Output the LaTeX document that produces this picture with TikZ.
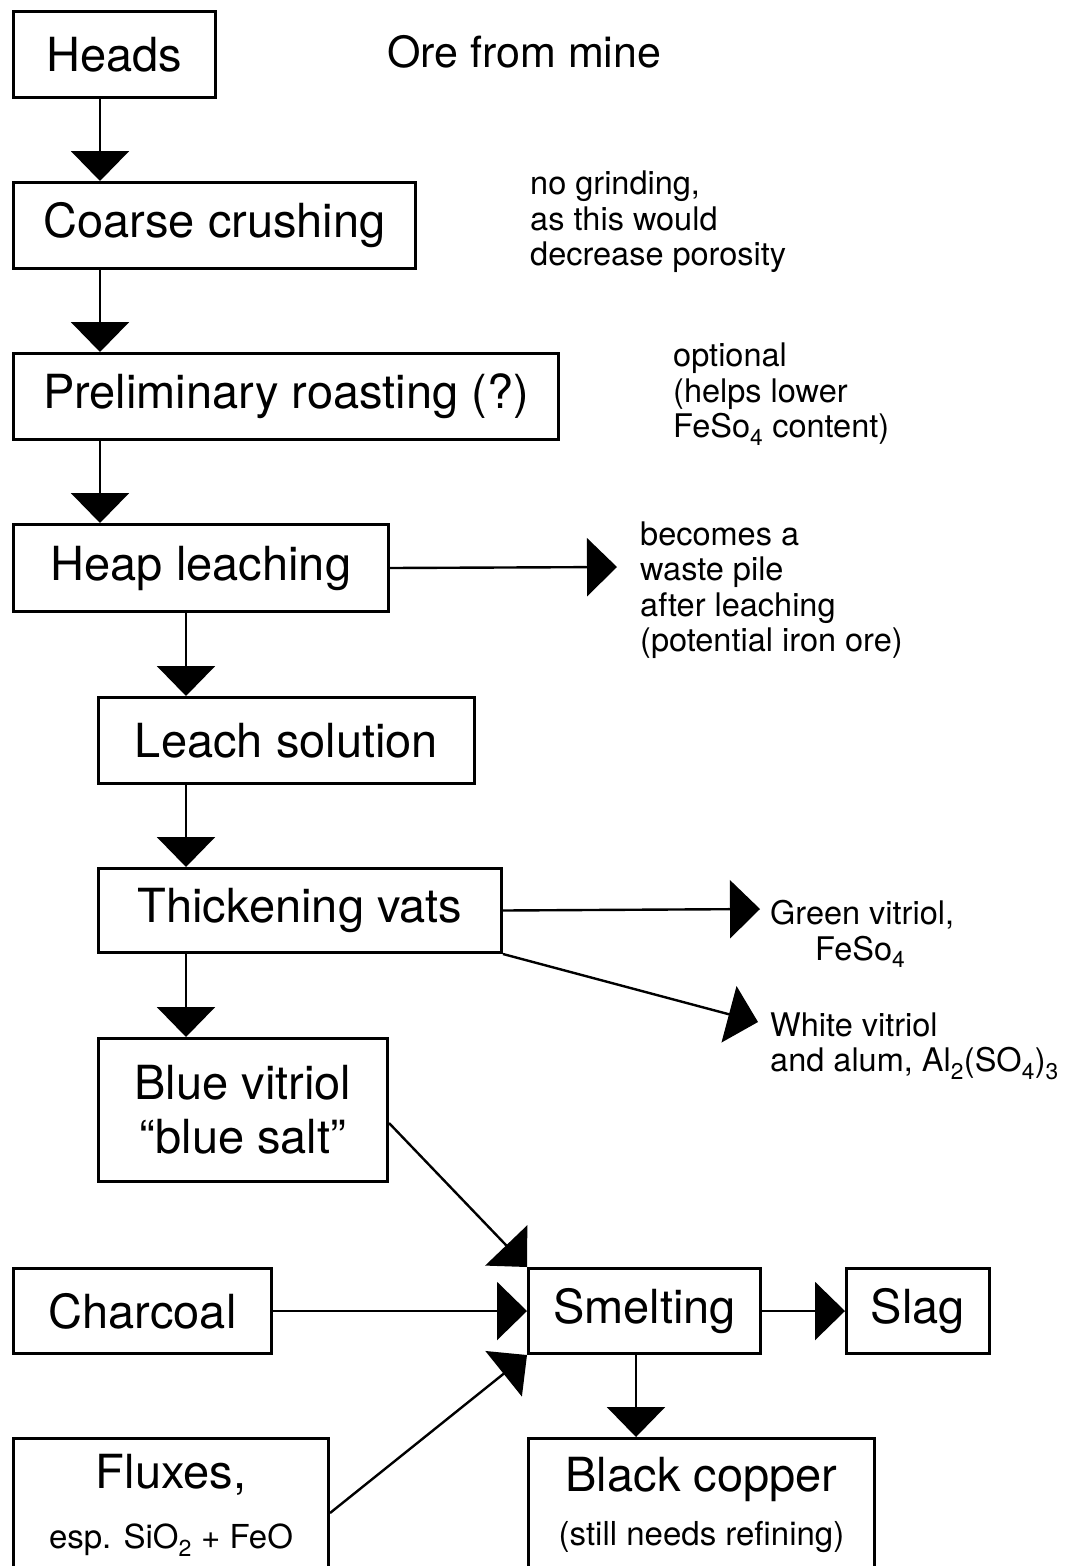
\documentclass[tikz,border=0pt]{standalone}
\usepackage{fontspec}
\setmainfont{TeX Gyre Heros}
\usetikzlibrary{arrows.meta}
\tikzset{
  bx/.style={draw,line width=3pt,inner sep=0pt,anchor=north west,align=center,font=\fontsize{47}{54}\selectfont},
  arr/.style={line width=2.4pt,-{Triangle[length=30pt,width=58pt]}},
  nt/.style={anchor=west,align=left,inner sep=0pt,font=\fontsize{32.5}{35.5}\selectfont}
}
\newcommand{\sm}[1]{{\fontsize{33}{38}\selectfont #1}}

\begin{document}
\begin{tikzpicture}[x=1pt,y=-1pt]
\useasboundingbox (0,0) rectangle (1084,1566);
\node[bx,minimum width=202pt,minimum height=86pt] (heads) at (12,10) {Heads};
\node[bx,minimum width=402pt,minimum height=86pt] (coarse) at (12,181) {Coarse crushing};
\node[bx,minimum width=545pt,minimum height=86pt] (roast) at (12,352) {Preliminary roasting (?)};
\node[bx,minimum width=375pt,minimum height=87pt] (heap) at (12,523) {Heap leaching};
\node[bx,minimum width=376pt,minimum height=86pt] (leach) at (97,696) {Leach solution};
\node[bx,minimum width=403pt,minimum height=84pt] (thick) at (97,867) {Thickening vats};
\node[bx,minimum width=289pt,minimum height=143pt] (blue) at (97,1037) {Blue vitriol\\“blue salt”};
\node[bx,minimum width=258pt,minimum height=85pt] (charcoal) at (12,1267) {Charcoal};
\node[bx,minimum width=232pt,minimum height=85pt] (smelt) at (527,1267) {Smelting};
\node[bx,minimum width=143pt,minimum height=85pt] (slag) at (845,1267) {Slag};
\node[bx,minimum width=315pt,minimum height=133pt] (fluxes) at (12,1437) {Fluxes,\\[6pt]\sm{esp. SiO\textsubscript{2} + FeO}};
\node[bx,minimum width=346pt,minimum height=133pt] (black) at (527,1437) {Black copper\\\sm{(still needs refining)}};

\node[nt,font=\fontsize{43}{50}\selectfont] (ore) at (387,52) {Ore from mine};
\node[nt] (grind) at (530,222) {no grinding,\\as this would\\decrease porosity};
\node[nt] (opt) at (673,394) {optional\\(helps lower\\FeSo\textsubscript{4} content)};
\node[nt] (waste) at (640,590) {becomes a\\waste pile\\after leaching\\(potential iron ore)};
\node[nt] (green) at (770,934) {Green vitriol,\\\hspace*{45pt}FeSo\textsubscript{4}};
\node[nt] (white) at (770,1046) {White vitriol\\and alum, Al\textsubscript{2}(SO\textsubscript{4})\textsubscript{3}};

\coordinate (wastetip) at (617,567);
\coordinate (greentip) at (760,909);
\coordinate (whitetip) at (758,1022);

\draw[arr] ([xshift=88pt]heads.south west) -- ([xshift=88pt]coarse.north west);
\draw[arr] ([xshift=88pt]coarse.south west) -- ([xshift=88pt]roast.north west);
\draw[arr] ([xshift=88pt]roast.south west) -- ([xshift=88pt]heap.north west);
\draw[arr] ([xshift=174pt]heap.south west) -- ([xshift=89pt]leach.north west);
\draw[arr] ([xshift=89pt]leach.south west) -- ([xshift=89pt]thick.north west);
\draw[arr] ([xshift=89pt]thick.south west) -- ([xshift=89pt]blue.north west);
\draw[arr] (heap.east) -- (wastetip);
\draw[arr] (thick.east) -- (greentip);
\draw[arr] (thick.south east) -- (whitetip);
\draw[arr] ([yshift=-13pt]blue.east) -- (smelt.north west);
\draw[arr] (charcoal.east) -- (smelt.west);
\draw[arr] ([yshift=-8pt]fluxes.east) -- (smelt.south west);
\draw[arr] (smelt.east) -- (slag.west);
\draw[arr] ([xshift=109pt]smelt.south west) -- ([xshift=109pt]black.north west);
\end{tikzpicture}
\end{document}
